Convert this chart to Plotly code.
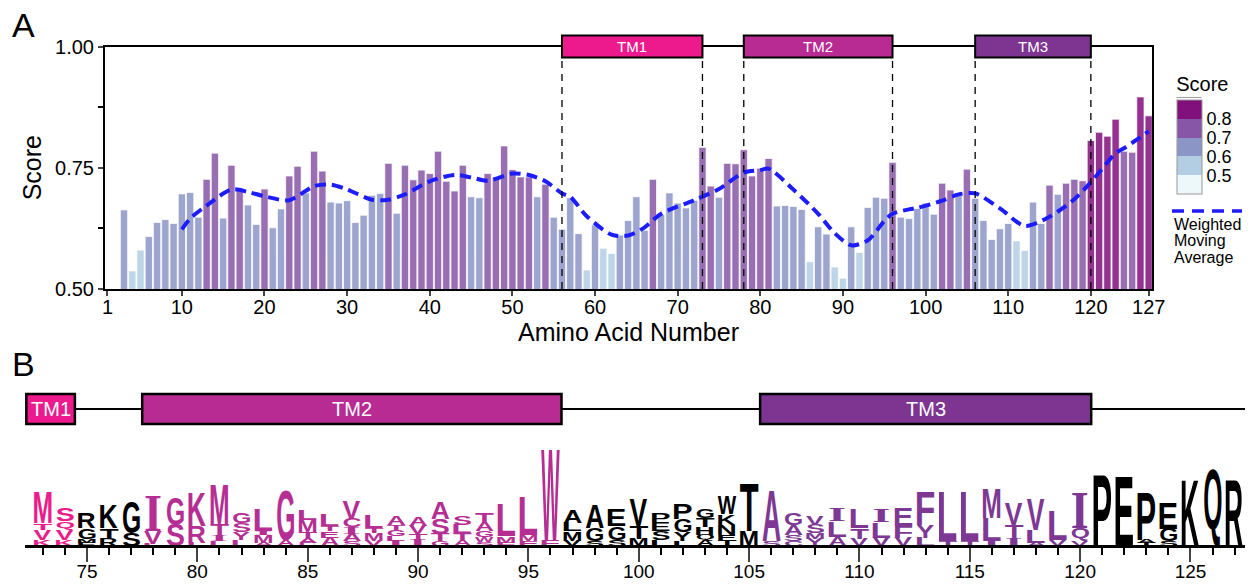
import json
import plotly.graph_objects as go

W, H = 1254, 584

# ---------------- Panel A data ----------------
aa_pos = list(range(3, 128))
scores = [0.663, 0.537, 0.580, 0.608, 0.637, 0.643, 0.635, 0.696, 0.699, 0.648,
          0.726, 0.780, 0.646, 0.755, 0.703, 0.673, 0.633, 0.706, 0.626, 0.665,
          0.733, 0.753, 0.698, 0.784, 0.743, 0.679, 0.677, 0.682, 0.637, 0.652,
          0.693, 0.697, 0.759, 0.656, 0.755, 0.725, 0.745, 0.738, 0.784, 0.722,
          0.702, 0.755, 0.690, 0.688, 0.738, 0.730, 0.795, 0.746, 0.731, 0.731,
          0.690, 0.716, 0.648, 0.623, 0.688, 0.614, 0.539, 0.632, 0.584, 0.573,
          0.611, 0.641, 0.690, 0.621, 0.726, 0.654, 0.698, 0.677, 0.667, 0.683,
          0.792, 0.712, 0.689, 0.759, 0.758, 0.787, 0.733, 0.749, 0.769, 0.671,
          0.672, 0.670, 0.664, 0.556, 0.628, 0.613, 0.545, 0.522, 0.628, 0.575,
          0.668, 0.689, 0.687, 0.761, 0.648, 0.645, 0.666, 0.677, 0.654, 0.718,
          0.704, 0.697, 0.747, 0.687, 0.641, 0.602, 0.624, 0.635, 0.599, 0.579,
          0.679, 0.635, 0.714, 0.695, 0.718, 0.726, 0.723, 0.806, 0.823, 0.815,
          0.850, 0.784, 0.782, 0.896, 0.857]

ma_pos = [10, 11, 13, 16, 18, 20, 23, 26, 28, 30, 33, 35, 37, 40, 43, 45, 47, 50,
          52, 54, 56, 57, 59, 62, 64, 66, 68, 72, 75, 78, 80, 81, 84, 87, 89, 91,
          93, 95, 96, 98, 99, 102, 104, 106, 109, 112, 115, 118, 120, 121, 123,
          124, 126, 127]
ma_val = [0.623, 0.645, 0.672, 0.705, 0.700, 0.691, 0.683, 0.712, 0.715, 0.705,
          0.684, 0.684, 0.695, 0.722, 0.735, 0.730, 0.723, 0.738, 0.735, 0.722,
          0.697, 0.690, 0.650, 0.612, 0.610, 0.627, 0.655, 0.683, 0.706, 0.740,
          0.745, 0.748, 0.705, 0.655, 0.615, 0.590, 0.600, 0.640, 0.655, 0.664,
          0.667, 0.682, 0.695, 0.697, 0.666, 0.630, 0.649, 0.685, 0.720, 0.740,
          0.780, 0.790, 0.813, 0.825]

x_ticks_a = [1, 10, 20, 30, 40, 50, 60, 70, 80, 90, 100, 110, 120, 127]
score_bins = [0.5, 0.6, 0.7, 0.8]
bin_colors = ["#edf8fb", "#b3cde3", "#8c96c6", "#8856a7", "#810f7c"]

tm_names = ["TM1", "TM2", "TM3"]
tm_colors = ["#ec1a8c", "#b72b93", "#7e3592"]
tm_start_a = [56, 78, 106]
tm_end_a = [73, 96, 120]
tm_start_b = [72.25, 77.5, 105.5]
tm_end_b = [74.45, 96.5, 120.5]

legend_lines = ["Weighted", "Moving", "Average"]

# ---------------- Panel B data (sequence logo) ----------------
logo_pos = list(range(73, 128))
logo_letters = [
    "MTVK", "SQVK", "RGME", "KTR", "GS", "IVL", "GS", "KRL", "MTIL", "GSYL",
    "LIMA", "GA", "LMTAC", "LTEA", "VCIAS", "LTMV", "ATGLI", "AVTI", "ASTG", "SLTA",
    "TAGWS", "LMF", "LMF", "WF", "ALMV", "AGS", "EGS", "VTM", "PESL", "PGYL",
    "GTHQA", "WKNET", "TM", "AS", "GASC", "VSMY", "ILA", "LTV", "ILV", "EFV",
    "FYL", "LT", "LT", "MLI", "VTI", "VLA", "LV", "IQV", "P", "E",
    "PAT", "EGS", "K", "Q", "R"]
logo_bits = [
    [1.28, 0.28, 0.42, 0.28], [0.53, 0.35, 0.42, 0.28], [0.65, 0.45, 0.18, 0.14],
    [0.97, 0.45, 0.32], [1.32, 0.55], [1.53, 0.53, 0.10], [1.11, 0.90],
    [1.39, 0.70, 0.14], [1.67, 0.46, 0.21, 0.21], [0.42, 0.39, 0.30, 0.28],
    [0.90, 0.17, 0.32, 0.14], [2.08, 0.28], [0.42, 0.49, 0.25, 0.21, 0.14],
    [0.49, 0.21, 0.28, 0.35], [0.76, 0.36, 0.28, 0.30, 0.21], [0.53, 0.21, 0.32, 0.24],
    [0.39, 0.21, 0.28, 0.21, 0.21], [0.39, 0.35, 0.24, 0.28], [0.69, 0.63, 0.30, 0.21],
    [0.35, 0.35, 0.32, 0.24], [0.42, 0.35, 0.25, 0.20, 0.18], [1.36, 0.28, 0.14],
    [1.63, 0.28, 0.21], [3.86, 0.24], [0.55, 0.35, 0.39, 0.24], [0.97, 0.55, 0.21],
    [0.72, 0.55, 0.28], [1.11, 0.51, 0.32], [0.35, 0.39, 0.35, 0.28],
    [0.63, 0.53, 0.39, 0.21], [0.39, 0.39, 0.30, 0.25, 0.24],
    [0.76, 0.42, 0.42, 0.25, 0.24], [1.99, 0.63], [2.08, 0.21],
    [0.49, 0.42, 0.28, 0.21], [0.39, 0.35, 0.24, 0.32], [0.55, 0.67, 0.38],
    [0.83, 0.45, 0.32], [0.55, 0.67, 0.35], [0.76, 0.49, 0.35], [1.39, 0.55, 0.35],
    [2.08, 0.21], [2.08, 0.21], [1.22, 0.97, 0.21], [0.90, 0.55, 0.35],
    [1.32, 0.55, 0.14], [1.25, 0.28], [1.53, 0.55, 0.21], [2.99], [2.92],
    [2.01, 0.14, 0.14], [1.07, 0.53, 0.21], [2.78], [3.20], [2.78]]
logo_region_colors = {"TM1": "#ec1c8c", "TM2": "#b52e93", "TM3": "#7d3894", "none": "#000000"}


def fx(px):
    return px / W


def fy(py):
    return 1 - py / H


def region_of(p):
    if p <= 74:
        return "TM1"
    if 78 <= p <= 96:
        return "TM2"
    if 106 <= p <= 120:
        return "TM3"
    return "none"


# build logo glyph boxes (bottom -> top stacking)
g_x, g_y, g_t, g_c, g_f, boxes = [], [], [], [], [], []
for p, letters, bits in zip(logo_pos, logo_letters, logo_bits):
    base = 0.0
    for ch, b in reversed(list(zip(letters, bits))):
        g_x.append(p)
        g_y.append(base + b / 2)
        g_t.append(ch)
        g_c.append(logo_region_colors[region_of(p)])
        g_f.append("Liberation Serif" if ch == "I" else "Liberation Sans")
        boxes.append([p, base, base + b, 0.84])
        base += b

# discrete colour scale
cmin, cmax = 0.4, 0.9
cs = []
edges = [cmin] + score_bins + [cmax]
for i, col in enumerate(bin_colors):
    a = (edges[i] - cmin) / (cmax - cmin)
    b = (edges[i + 1] - cmin) / (cmax - cmin)
    cs.append([a, col])
    cs.append([b, col])

cb_left, cb_top, cb_bottom = 1176.7, 73.3, 194.0

fig = go.Figure()
fig.add_trace(go.Bar(
    x=aa_pos, y=scores, xaxis="x", yaxis="y", showlegend=False,
    marker=dict(color=scores, colorscale=cs, cmin=cmin, cmax=cmax, opacity=0.85,
                line=dict(color="rgba(255,255,255,0.75)", width=1),
                colorbar=dict(x=fx(cb_left), xanchor="left", y=fy(cb_top), yanchor="top",
                              len=(cb_bottom - cb_top) / H, lenmode="fraction",
                              thickness=25, thicknessmode="pixels", xpad=0, ypad=0,
                              outlinewidth=1, outlinecolor="#999999",
                              tickvals=score_bins, ticktext=[str(v) for v in score_bins],
                              ticks="", tickfont=dict(size=18, color="black"),
                              title=dict(text="Score", side="top", font=dict(size=20, color="black")))),
))
fig.add_trace(go.Scatter(
    x=ma_pos, y=ma_val, xaxis="x", yaxis="y", mode="lines", showlegend=False,
    line=dict(color="#1c1cff", width=4, dash="11px,6px", shape="spline", smoothing=0.8),
    hoverinfo="skip"))
fig.add_trace(go.Scatter(
    x=g_x, y=g_y, text=g_t, mode="text", name="logo", xaxis="x2", yaxis="y2",
    showlegend=False, hoverinfo="skip", cliponaxis=False,
    textfont=dict(color=g_c, family=g_f, size=20, weight="bold")))

shapes = []
# Panel A topology
for s, e, col in zip(tm_start_a, tm_end_a, tm_colors):
    for xv in (s, e):
        shapes.append(dict(type="line", xref="x", yref="paper", x0=xv, x1=xv,
                           y0=fy(288.9), y1=fy(57.5), layer="above",
                           line=dict(color="black", width=1.3, dash="7px,6px")))
for s, e, col in zip(tm_start_a, tm_end_a, tm_colors):
    shapes.append(dict(type="rect", xref="x", yref="paper", x0=s, x1=e,
                       y0=fy(57.5), y1=fy(35.5), fillcolor=col, layer="above",
                       line=dict(color="black", width=2)))
# Panel B topology
shapes.append(dict(type="line", xref="x2", yref="paper", x0=72.3, x1=127.47,
                   y0=fy(409), y1=fy(409), line=dict(color="black", width=2)))
for s, e, col in zip(tm_start_b, tm_end_b, tm_colors):
    shapes.append(dict(type="rect", xref="x2", yref="paper", x0=s, x1=e,
                       y0=fy(424), y1=fy(394), fillcolor=col,
                       line=dict(color="black", width=2.5)))
# colour-bar bin separators
for v in score_bins:
    yy = cb_top + (cmax - v) / (cmax - cmin) * (cb_bottom - cb_top)
    shapes.append(dict(type="line", xref="paper", yref="paper", x0=fx(cb_left), x1=fx(cb_left + 25),
                       y0=fy(yy), y1=fy(yy), line=dict(color="#999999", width=1)))
# moving-average legend sample
shapes.append(dict(type="line", xref="paper", yref="paper", x0=fx(1172), x1=fx(1242),
                   y0=fy(211), y1=fy(211), line=dict(color="#1c1cff", width=3.5, dash="12px,8px")))

annotations = [
    dict(text="A", x=fx(10), y=fy(4), xref="paper", yref="paper", xanchor="left", yanchor="top",
         showarrow=False, font=dict(size=34, color="black")),
    dict(text="B", x=fx(10), y=fy(343), xref="paper", yref="paper", xanchor="left", yanchor="top",
         showarrow=False, font=dict(size=34, color="black")),
]
for k, line in enumerate(legend_lines):
    annotations.append(dict(text=line, x=fx(1172), y=fy(224 + 16.7 * k), xref="paper", yref="paper",
                            xanchor="left", yanchor="middle", align="left", showarrow=False,
                            font=dict(size=16, color="black")))
for nm, s, e in zip(tm_names, tm_start_a, tm_end_a):
    annotations.append(dict(text=nm, x=(s + e) / 2, y=fy(46.5), xref="x", yref="paper",
                            xanchor="center", yanchor="middle",
                            showarrow=False, font=dict(size=15, color="white")))
for nm, s, e in zip(tm_names, tm_start_b, tm_end_b):
    annotations.append(dict(text=nm, x=(s + e) / 2, y=fy(409), xref="x2", yref="paper",
                            xanchor="center", yanchor="middle",
                            showarrow=False, font=dict(size=20, color="white")))

fig.update_layout(
    width=W, height=H, margin=dict(l=0, r=0, t=0, b=0, autoexpand=False),
    paper_bgcolor="white", plot_bgcolor="white",
    font=dict(family="Liberation Sans, Arial, sans-serif", color="black"),
    bargap=0.12,
    xaxis=dict(domain=[fx(105), fx(1152)], range=[0.7, 127.4], anchor="y", automargin=False,
               tickmode="array", tickvals=x_ticks_a, ticks="outside", ticklen=5, tickwidth=1.5,
               ticklabelstandoff=-6,
               showline=True, linecolor="black", linewidth=2, mirror=True, showgrid=False,
               zeroline=False, tickfont=dict(size=20),
               title=dict(text="Amino Acid Number", font=dict(size=25), standoff=1)),
    yaxis=dict(domain=[fy(288.9), fy(46.5)], range=[0.5, 1.0], anchor="x", automargin=False,
               tick0=0.5, dtick=0.25, tickformat=".2f", ticks="outside", ticklen=5, tickwidth=1.5,
               minor=dict(tick0=0.5, dtick=0.125, ticks="outside", ticklen=5, tickwidth=1.5,
                          tickcolor="black"),
               showline=True, linecolor="black", linewidth=2, mirror=True, showgrid=False,
               zeroline=False, tickfont=dict(size=20),
               title=dict(text="Score", font=dict(size=25), standoff=6)),
    xaxis2=dict(domain=[fx(25), fx(1245)], range=[72.19, 127.47], anchor="y2", automargin=False,
                tick0=0, dtick=5, ticks="outside", ticklen=14, tickwidth=2, ticklabelstandoff=-7,
                minor=dict(tick0=0, dtick=1, ticks="outside", ticklen=7, tickwidth=2,
                           tickcolor="black"),
                showline=True, linecolor="black", linewidth=2.5, showgrid=False, zeroline=False,
                tickfont=dict(size=19)),
    yaxis2=dict(domain=[fy(545), fy(430)], range=[-0.15, 4.64], anchor="x2", visible=False,
                automargin=False),
    shapes=shapes, annotations=annotations,
)

post_js = """
document.body.style.margin = '0';
var gd = document.getElementById('{plot_id}');
var boxes = BOXES;
var letters = LETTERS;
var fl = gd._fullLayout;
var xa = fl.xaxis2, ya = fl.yaxis2;
var els = gd.querySelectorAll('.subplot.x2y2 .scatterlayer .textpoint text');
var ctx = document.createElement('canvas').getContext('2d');
var colW = Math.abs(xa.c2p(1) - xa.c2p(0));
for (var i = 0; i < els.length && i < boxes.length; i++) {
  var el = els[i];
  var ch = letters[i];
  var bx = boxes[i];
  var fs = parseFloat(el.style.fontSize) || 20;
  var fam = el.style.fontFamily || 'Liberation Sans';
  ctx.font = 'bold ' + fs + 'px ' + fam;
  var m = ctx.measureText(ch);
  var L = -m.actualBoundingBoxLeft, R = m.actualBoundingBoxRight;
  var T = -m.actualBoundingBoxAscent, B = m.actualBoundingBoxDescent;
  var xc = xa.c2p(bx[0]);
  var w = colW * bx[3];
  var X0 = xc - w / 2, X1 = xc + w / 2;
  var Yb = ya.c2p(bx[1]), Yt = ya.c2p(bx[2]);
  var sx = (X1 - X0) / (R - L), sy = (Yb - Yt) / (B - T);
  el.textContent = ch;
  el.setAttribute('x', 0);
  el.setAttribute('y', 0);
  el.setAttribute('text-anchor', 'start');
  el.removeAttribute('dy');
  el.setAttribute('transform', 'matrix(' + sx + ',0,0,' + sy + ',' + (X0 - sx * L) + ',' + (Yt - sy * T) + ')');
}
""".replace("BOXES", json.dumps(boxes)).replace("LETTERS", json.dumps(g_t))

fig.write_html("out.html", post_script=post_js, config={"displayModeBar": False})
